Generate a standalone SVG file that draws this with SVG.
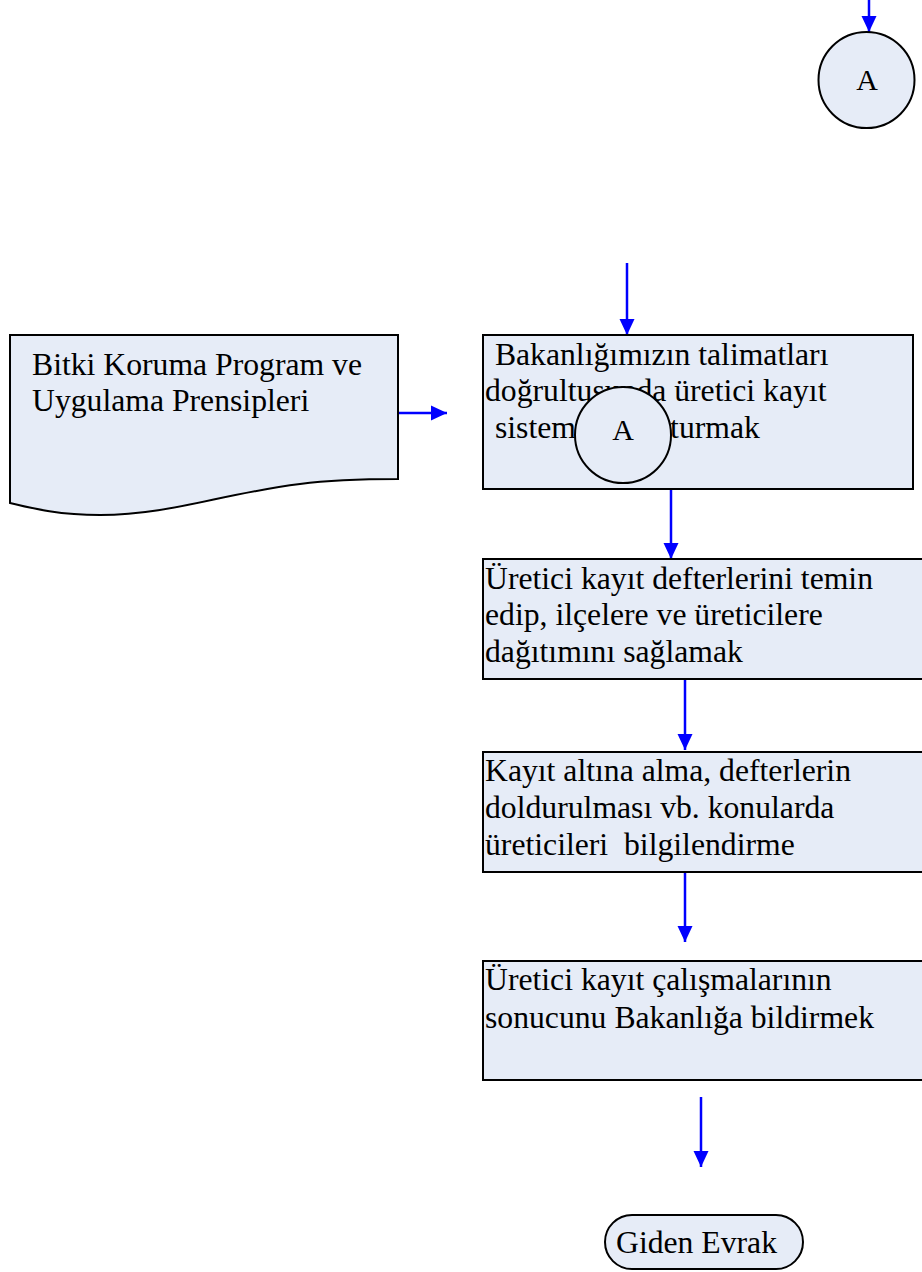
<svg xmlns="http://www.w3.org/2000/svg" width="922" height="1272" viewBox="0 0 922 1272">
<defs>
<style>
.box{fill:#E6ECF7;stroke:#000;stroke-width:2}
.t{font-family:"Liberation Serif","Times New Roman",serif;font-size:31.7px;fill:#000}
.c{text-anchor:middle;font-size:30px}
.arr{stroke:#0000FF;stroke-width:2.5;fill:none}
</style>
<marker id="ah" markerUnits="userSpaceOnUse" markerWidth="16" markerHeight="16" viewBox="0 0 16 16" refX="16" refY="8" orient="auto">
<path d="M0,0.5 L16,8 L0,15.5 Z" fill="#0000FF"/>
</marker>
</defs>
<rect width="922" height="1272" fill="#fff"/>
<g id="connectors">
<line class="arr" x1="869" y1="0" x2="869" y2="32" marker-end="url(#ah)"/>
<line class="arr" x1="627" y1="263" x2="627" y2="335" marker-end="url(#ah)"/>
<line class="arr" x1="398" y1="413" x2="447" y2="413" marker-end="url(#ah)"/>
<line class="arr" x1="671" y1="489" x2="671" y2="559" marker-end="url(#ah)"/>
<line class="arr" x1="685" y1="679" x2="685" y2="750" marker-end="url(#ah)"/>
<line class="arr" x1="685" y1="872" x2="685" y2="942" marker-end="url(#ah)"/>
<line class="arr" x1="701" y1="1097" x2="701" y2="1167" marker-end="url(#ah)"/>
</g>
<g id="connectorA_top">
<circle class="box" cx="866.5" cy="80" r="48"/>
<text class="t c" x="867" y="90">A</text>
</g>
<g id="doc">
<path class="box" d="M10,335 L398,335 L398,479 C360,479 330,480 300,484 C220,494 170,515 100,515 C60,515 35,509 10,503 Z"/>
<text class="t" x="32" y="375">Bitki Koruma Program ve</text>
<text class="t" x="32" y="411">Uygulama Prensipleri</text>
</g>
<g id="step1">
<rect class="box" x="483" y="335" width="430" height="154"/>
<text class="t" x="487" y="365" xml:space="preserve"> Bakanlığımızın talimatları</text>
<text class="t" x="485" y="401">doğrultusunda üretici kayıt</text>
<text class="t" x="487" y="438" xml:space="preserve"> sistemini oluşturmak</text>
</g>
<g id="connectorA_in">
<circle class="box" cx="623" cy="435" r="48"/>
<text class="t c" x="623" y="440">A</text>
</g>
<g id="step2">
<rect class="box" x="483" y="559" width="445" height="120"/>
<text class="t" x="485" y="589">Üretici kayıt defterlerini temin</text>
<text class="t" x="485" y="625">edip, ilçelere ve üreticilere</text>
<text class="t" x="485" y="662">dağıtımını sağlamak</text>
</g>
<g id="step3">
<rect class="box" x="483" y="752" width="445" height="120"/>
<text class="t" x="485" y="781">Kayıt altına alma, defterlerin</text>
<text class="t" x="485" y="818">doldurulması vb. konularda</text>
<text class="t" x="485" y="855" xml:space="preserve">üreticileri  bilgilendirme</text>
</g>
<g id="step4">
<rect class="box" x="483" y="961" width="445" height="119"/>
<text class="t" x="485" y="990">Üretici kayıt çalışmalarının</text>
<text class="t" x="485" y="1028">sonucunu Bakanlığa bildirmek</text>
</g>
<g id="end">
<rect class="box" x="605" y="1215" width="198" height="54" rx="27" ry="27"/>
<text class="t" x="616" y="1253">Giden Evrak</text>
</g>
</svg>
